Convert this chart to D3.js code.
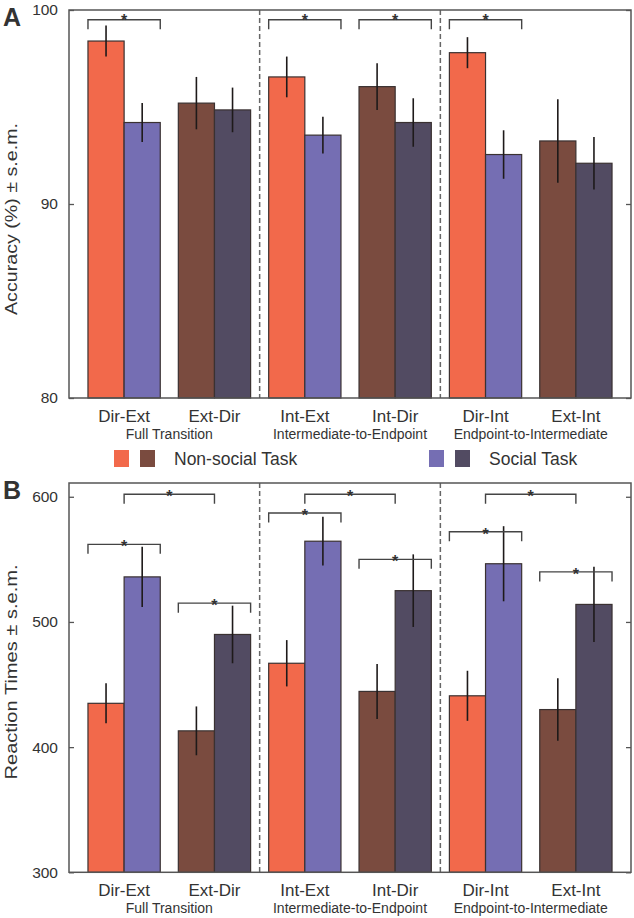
<!DOCTYPE html>
<html><head><meta charset="utf-8">
<script src="https://cdn.jsdelivr.net/npm/d3@7"></script>
<style>
body{margin:0;background:#fff}
svg{display:block}
text{font-family:"Liberation Sans",Arial,Helvetica,sans-serif;fill:#333}
</style>
</head><body>
<svg id="chart" width="634" height="918"></svg>
<script>
// ---------- data ----------
const categories = ["Dir-Ext","Ext-Dir","Int-Ext","Int-Dir","Dir-Int","Ext-Int"];
const groupNames = ["Full Transition","Intermediate-to-Endpoint","Endpoint-to-Intermediate"];
const seriesNames = ["Non-social Task","Social Task"];

const accTicks = [80,90,100];
const rtTicks = [300,400,500,600];

const accNonSocial    = [98.4, 95.2, 96.55, 96.05, 97.8, 93.25];
const accNonSocialErr = [0.8, 1.35, 1.05, 1.2, 0.8, 2.15];
const accSocial       = [94.2, 94.85, 93.55, 94.2, 92.55, 92.1];
const accSocialErr    = [1.0, 1.15, 0.95, 1.25, 1.25, 1.35];

const rtNonSocial     = [435, 413, 467, 444.5, 441, 430];
const rtNonSocialErr  = [16, 19.5, 18.5, 22, 20, 25];
const rtSocial        = [536, 490, 564.5, 525, 546.5, 514];
const rtSocialErr     = [24, 23, 19.5, 29, 30, 30];

// significance brackets (category index, level in data units)
const accPairSig   = [0, 2, 3, 4];
const accPairLevel = [99.5, 99.5, 99.5, 99.5];
const rtPairSig    = [0, 1, 2, 3, 4, 5];
const rtPairLevel  = [562, 515, 587, 550, 572, 540];
const rtCrossSig   = [[0,1],[2,3],[4,5]];
const rtCrossLevel = [602, 602, 602];

// ---------- style ----------
const nonSocialColors = ["#F2694B","#7A4B3F"];
const socialColors    = ["#756EB3","#524B62"];
const L = 69, R = 631;

const svg = d3.select("#chart");

const x0 = d3.scaleBand().domain(categories).range([L, R]).paddingInner(0.2).paddingOuter(0.21);
const x1 = d3.scaleBand().domain(seriesNames).range([0, x0.bandwidth()]);

function drawPanel(opt){
  const g = svg.append("g");
  const y = d3.scaleLinear().domain(opt.domain).range([opt.bottom, opt.top]);
  const rows = categories.map((c,i)=>({c, i,
    vals:[{s:seriesNames[0], v:opt.non[i], e:opt.nonErr[i], col:nonSocialColors[i%2]},
          {s:seriesNames[1], v:opt.soc[i], e:opt.socErr[i], col:socialColors[i%2]}]}));

  // bars
  const grp = g.selectAll("g.cat").data(rows).join("g").attr("class","cat")
    .attr("transform", d=>`translate(${x0(d.c)},0)`);
  grp.selectAll("rect").data(d=>d.vals).join("rect")
    .attr("x", d=>x1(d.s)).attr("width", x1.bandwidth())
    .attr("y", d=>y(d.v)).attr("height", d=>opt.bottom - y(d.v))
    .attr("fill", d=>d.col).attr("stroke","#3a3131").attr("stroke-width",1.2);
  grp.selectAll("line.err").data(d=>d.vals).join("line").attr("class","err")
    .attr("x1", d=>x1(d.s)+x1.bandwidth()/2).attr("x2", d=>x1(d.s)+x1.bandwidth()/2)
    .attr("y1", d=>y(d.v-d.e)).attr("y2", d=>y(d.v+d.e))
    .attr("stroke","#1e1a1a").attr("stroke-width",1.6);

  // separators
  [[1,2],[3,4]].forEach(([a,b])=>{
    const xs = (x0(categories[a]) + x0.bandwidth() + x0(categories[b]))/2;
    g.append("line").attr("x1",xs).attr("x2",xs).attr("y1",opt.top).attr("y2",opt.bottom)
      .attr("stroke","#666").attr("stroke-width",1.5).attr("stroke-dasharray","5,3");
  });

  // axes (ticks inward)
  const ax = g.append("g").attr("transform",`translate(${L},0)`)
    .call(d3.axisLeft(y).tickValues(opt.ticks).tickSize(-5).tickPadding(11).tickFormat(d3.format("d")));
  ax.select(".domain").remove();
  ax.selectAll("line").attr("stroke","#555").attr("stroke-width",1.3);
  ax.selectAll("text").style("font-size","15.5px").attr("fill","#333");
  const axr = g.append("g").attr("transform",`translate(${R},0)`)
    .call(d3.axisRight(y).tickValues(opt.ticks).tickSize(-5).tickFormat(""));
  axr.select(".domain").remove();
  axr.selectAll("line").attr("stroke","#555").attr("stroke-width",1.3);

  // frame
  g.append("rect").attr("x",L).attr("y",opt.top).attr("width",R-L).attr("height",opt.bottom-opt.top)
    .attr("fill","none").attr("stroke","#555").attr("stroke-width",1.5);

  // brackets
  function bracket(xa, xb, lvl, starDy){
    const yy = y(lvl);
    g.append("path").attr("d",`M${xa},${yy+9.5}V${yy}H${xb}V${yy+9.5}`)
      .attr("fill","none").attr("stroke","#444").attr("stroke-width",1.4);
    g.append("text").attr("x",(xa+xb)/2).attr("y",yy+starDy).attr("text-anchor","middle")
      .style("font-size","16px").style("font-weight","bold").attr("fill","#222").text("*");
  }
  opt.pairSig.forEach((ci,k)=>{
    const c = categories[ci];
    bracket(x0(c), x0(c)+x0.bandwidth(), opt.pairLevel[k], opt.starDy);
  });
  (opt.crossSig||[]).forEach((pr,k)=>{
    const a = x0(categories[pr[0]]) + x0.bandwidth()/2;
    const b = x0(categories[pr[1]]) + x0.bandwidth()/2;
    bracket(a, b, opt.crossLevel[k], opt.starDy);
  });

  // category labels
  g.selectAll("text.cl").data(categories).join("text").attr("class","cl")
    .attr("x", d=>x0(d)+x0.bandwidth()/2).attr("y", opt.bottom+23.5)
    .attr("text-anchor","middle").style("font-size","17px").text(d=>d);
  g.selectAll("text.gl").data(groupNames).join("text").attr("class","gl")
    .attr("x", (d,i)=>(x0(categories[2*i])+x0.bandwidth()/2 + x0(categories[2*i+1])+x0.bandwidth()/2)/2)
    .attr("y", opt.bottom+40.5)
    .attr("text-anchor","middle").style("font-size","14px").text(d=>d);

  // y title
  g.append("text").attr("transform",`translate(17,${opt.titleY}) rotate(-90)`)
    .attr("text-anchor","middle").style("font-size","17px")
    .attr("textLength", opt.titleLen).attr("lengthAdjust","spacingAndGlyphs").text(opt.title);

  // panel letter
  g.append("text").attr("x",3).attr("y",opt.top+16).style("font-size","25px").style("font-weight","bold")
    .attr("fill","#111").text(opt.letter);
}

drawPanel({domain:[80,100], top:10, bottom:398, ticks:accTicks,
  non:accNonSocial, nonErr:accNonSocialErr, soc:accSocial, socErr:accSocialErr,
  pairSig:accPairSig, pairLevel:accPairLevel, starDy:6.5,
  title:"Accuracy (%) \u00b1 s.e.m.", titleY:219, titleLen:192, letter:"A"});

drawPanel({domain:[300,611], top:483, bottom:872.3, ticks:rtTicks,
  non:rtNonSocial, nonErr:rtNonSocialErr, soc:rtSocial, socErr:rtSocialErr,
  pairSig:rtPairSig, pairLevel:rtPairLevel, crossSig:rtCrossSig, crossLevel:rtCrossLevel, starDy:8,
  title:"Reaction Times \u00b1 s.e.m.", titleY:672, titleLen:215, letter:"B"});

// legend
const legend = svg.append("g");
const legItems = [
  {name:seriesNames[0], cols:nonSocialColors, x:114},
  {name:seriesNames[1], cols:socialColors, x:429}
];
legItems.forEach(it=>{
  it.cols.forEach((c,j)=>{
    legend.append("rect").attr("x", it.x + j*26).attr("y",450).attr("width",15).attr("height",17).attr("fill",c);
  });
  legend.append("text").attr("x", it.x + 60).attr("y",465).style("font-size","17.5px").text(it.name);
});
</script>
</body></html>
